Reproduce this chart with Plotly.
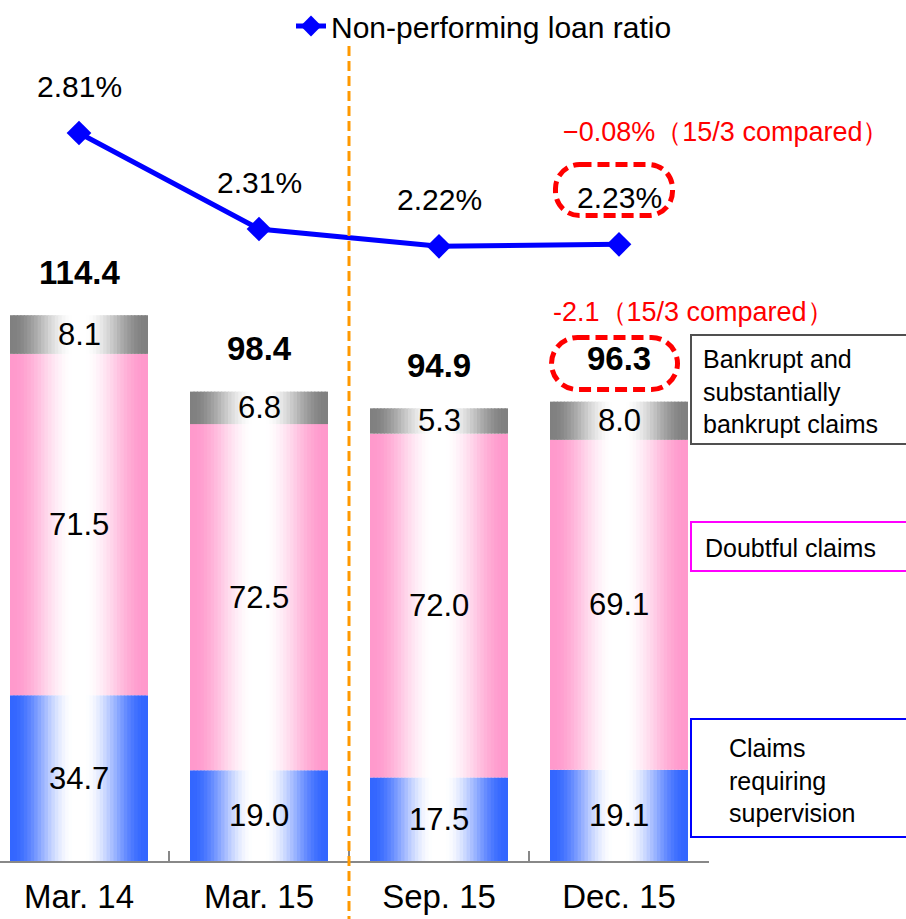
import plotly.graph_objects as go

# ---------------- data ----------------
categories = ["Mar. 14", "Mar. 15", "Sep. 15", "Dec. 15"]
supervision = [34.7, 19.0, 17.5, 19.1]   # Claims requiring supervision
doubtful = [71.5, 72.5, 72.0, 69.1]      # Doubtful claims
bankrupt = [8.1, 6.8, 5.3, 8.0]          # Bankrupt and substantially bankrupt claims
totals = [114.4, 98.4, 94.9, 96.3]
npl_ratio = [2.81, 2.31, 2.22, 2.23]     # Non-performing loan ratio (%)

# ---------------- geometry helpers ----------------
W, H = 906, 919
PLOT_H = 861
PX_PER_UNIT = 4.775
FONT = "Liberation Sans, Arial, sans-serif"


def px(xp):
    return xp / W


def py(yp):
    return 1 - yp / PLOT_H


fig = go.Figure()

# ---------------- gradient stacked bars ----------------
BAR_W = 138 / 180
N = 40
slice_w = BAR_W / N
seg_values = [supervision, doubtful, bankrupt]
seg_edges = [(51, 102, 255), (255, 153, 204), (128, 128, 128)]
bases = []
running = [0.0] * len(categories)
for vals in seg_values:
    bases.append(list(running))
    running = [r + v for r, v in zip(running, vals)]
stack_tops = running


def smoothstep(a, b, t):
    u = min(1.0, max(0.0, (t - a) / (b - a)))
    return u * u * (3 - 2 * u)


for k in range(N):
    tc = (k + 0.5) / N
    d = abs(tc - 0.5) * 2
    f = smoothstep(0.08, 0.97, d)
    xs, ys, bs, cs = [], [], [], []
    for vals, bb, edge in zip(seg_values, bases, seg_edges):
        r = round(255 * (1 - f) + edge[0] * f)
        g = round(255 * (1 - f) + edge[1] * f)
        b = round(255 * (1 - f) + edge[2] * f)
        for c, v, b0 in zip(categories, vals, bb):
            xs.append(c)
            ys.append(v)
            bs.append(b0)
            cs.append(f"rgb({r},{g},{b})")
    w = slice_w * 1.35 if k < N - 1 else slice_w
    fig.add_trace(go.Bar(
        x=xs, y=ys, base=bs, width=w, offset=-BAR_W / 2 + k * slice_w,
        marker=dict(color=cs, line=dict(width=0)),
        showlegend=False, hoverinfo="skip",
    ))

# ---------------- line ----------------
fig.add_trace(go.Scatter(
    x=categories, y=npl_ratio, yaxis="y2", mode="lines+markers",
    name="Non-performing loan ratio",
    line=dict(color="#0000FF", width=5),
    marker=dict(symbol="diamond", size=19, color="#0000FF"),
    hoverinfo="skip",
))

annotations = []
# segment labels
for vals, bb in zip(seg_values, bases):
    for c, v, b0 in zip(categories, vals, bb):
        annotations.append(dict(
            x=c, y=b0 + v / 2, xref="x", yref="y", text=f"{v:.1f}",
            showarrow=False, font=dict(family=FONT, size=31, color="black"),
        ))
# totals
for c, t, top in zip(categories, totals, stack_tops):
    annotations.append(dict(
        x=c, y=top, xref="x", yref="y", yshift=43, text=f"<b>{t:.1f}</b>",
        showarrow=False, font=dict(family=FONT, size=33, color="black"),
    ))
# ratio labels
for c, r in zip(categories, npl_ratio):
    annotations.append(dict(
        x=c, y=r, xref="x", yref="y2", yshift=47, text=f"{r:.2f}%",
        showarrow=False, font=dict(family=FONT, size=30, color="black"),
    ))

# comparison texts (Dec.15 vs Mar.15)
d_ratio = npl_ratio[3] - npl_ratio[1]
d_total = totals[3] - totals[1]
annotations.append(dict(
    x=px(561), y=py(132), xref="paper", yref="paper", xanchor="left", yanchor="middle",
    text=f"{'−' if d_ratio < 0 else '+'}{abs(d_ratio):.2f}%（15/3 compared）",
    showarrow=False, font=dict(family=FONT, size=27, color="#FF0000"),
))
annotations.append(dict(
    x=px(551), y=py(312), xref="paper", yref="paper", xanchor="left", yanchor="middle",
    text=f"{'-' if d_total < 0 else '+'}{abs(d_total):.1f}（15/3 compared）",
    showarrow=False, font=dict(family=FONT, size=27, color="#FF0000"),
))

# legend boxes text
annotations.append(dict(
    x=px(701), y=py(391), xref="paper", yref="paper", xanchor="left", yanchor="middle",
    align="left", text="Bankrupt and<br>substantially<br>bankrupt claims",
    showarrow=False, font=dict(family=FONT, size=25, color="black"),
))
annotations.append(dict(
    x=px(703), y=py(548), xref="paper", yref="paper", xanchor="left", yanchor="middle",
    align="left", text="Doubtful claims",
    showarrow=False, font=dict(family=FONT, size=25, color="black"),
))
annotations.append(dict(
    x=px(727), y=py(780), xref="paper", yref="paper", xanchor="left", yanchor="middle",
    align="left", text="Claims<br>requiring<br>supervision",
    showarrow=False, font=dict(family=FONT, size=25, color="black"),
))

shapes = []
# boxes
for (x0, y0, x1, y1, col) in [(691, 335, 915, 444, "#505050"),
                              (691, 522, 915, 571, "#FF00FF"),
                              (691, 719, 915, 837, "#0000FF")]:
    shapes.append(dict(type="rect", xref="paper", yref="paper",
                       x0=px(x0), x1=px(x1), y0=py(y0), y1=py(y1),
                       line=dict(color=col, width=2), fillcolor="rgba(0,0,0,0)"))

# orange dashed divider
shapes.append(dict(type="line", xref="paper", yref="paper",
                   x0=px(349), x1=px(349), y0=py(46), y1=py(919),
                   line=dict(color="#FF9900", width=3, dash="10px,5px")))


def rounded(x0, y0, x1, y1, r):
    k = 0.5523 * r
    pts = [
        ("M", [(x0 + r, y0)]),
        ("L", [(x1 - r, y0)]),
        ("C", [(x1 - r + k, y0), (x1, y0 + r - k), (x1, y0 + r)]),
        ("L", [(x1, y1 - r)]),
        ("C", [(x1, y1 - r + k), (x1 - r + k, y1), (x1 - r, y1)]),
        ("L", [(x0 + r, y1)]),
        ("C", [(x0 + r - k, y1), (x0, y1 - r + k), (x0, y1 - r)]),
        ("L", [(x0, y0 + r)]),
        ("C", [(x0, y0 + r - k), (x0 + r - k, y0), (x0 + r, y0)]),
    ]
    s = ""
    for cmd, ps in pts:
        s += cmd + " " + " ".join(f"{px(a):.5f},{py(b):.5f}" for a, b in ps) + " "
    return s + "Z"


for (x0, y0, x1, y1, r) in [(555.5, 164.5, 672.5, 215.5, 24),
                            (551.5, 337.5, 677.5, 389.5, 26)]:
    shapes.append(dict(type="path", xref="paper", yref="paper", path=rounded(x0, y0, x1, y1, r),
                       line=dict(color="#FF0000", width=5, dash="12px,6px")))

fig.update_layout(
    width=W, height=H,
    margin=dict(l=0, r=0, t=0, b=H - PLOT_H, pad=0, autoexpand=False),
    paper_bgcolor="white", plot_bgcolor="white",
    barmode="overlay",
    xaxis=dict(
        type="category", domain=[0, 709 / W], range=[-79 / 180, 3.5],
        automargin=False,
        showline=True, linecolor="#888888", linewidth=1.5,
        ticks="inside", tickson="boundaries", ticklen=10, tickcolor="#888888", tickwidth=1.5,
        showgrid=False, zeroline=False,
        tickfont=dict(family=FONT, size=33, color="black"),
        ticklabelstandoff=6,
    ),
    yaxis=dict(range=[0, PLOT_H / PX_PER_UNIT], visible=False, showgrid=False, automargin=False),
    yaxis2=dict(range=[2.81 - (PLOT_H - 133) / 192, 2.81 + 133 / 192], overlaying="y",
                visible=False, showgrid=False, automargin=False),
    showlegend=True,
    legend=dict(x=px(291), y=py(26), xanchor="left", yanchor="middle",
                bgcolor="rgba(0,0,0,0)", font=dict(family=FONT, size=30, color="black")),
    annotations=annotations,
    shapes=shapes,
)

fig.write_html("out.html", config={"displayModeBar": False},
               post_script="document.body.style.margin='0px';")
